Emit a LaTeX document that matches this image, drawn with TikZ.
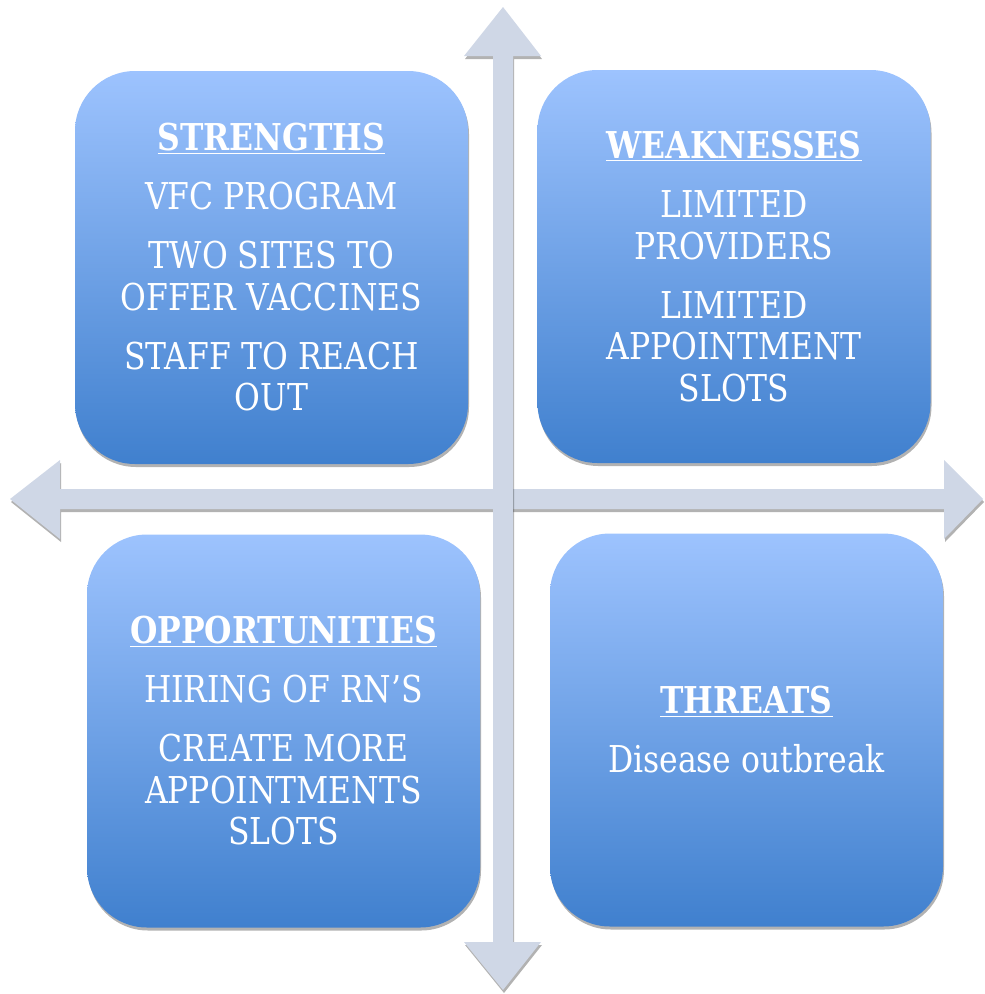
\documentclass[tikz,border=0pt]{standalone}
\usepackage{fontspec}
\setmainfont{DejaVu Serif}[FakeStretch=0.85]
\usepackage{tikz}
\usetikzlibrary{shadows}

\definecolor{axisgray}{RGB}{207,215,230}
\definecolor{boxtop}{RGB}{157,195,254}
\definecolor{boxbottom}{RGB}{64,128,206}

\begin{document}
\begin{tikzpicture}[x=1pt,y=-1pt,
 quad/.style={rounded corners=60pt,minimum width=393pt,minimum height=393pt,
  top color=boxtop,bottom color=boxbottom,text=white,align=center,inner sep=0pt,
  font=\fontsize{37}{41.5}\selectfont,
  drop shadow={shadow xshift=1pt,shadow yshift=-3pt,opacity=0.3,fill=black}},
 axis/.style={fill=axisgray,
  drop shadow={shadow xshift=1pt,shadow yshift=-3pt,opacity=0.3,fill=black}}]

\useasboundingbox (0,0) rectangle (985,994);

\def\g{17.5pt}

% axes
\path[axis] (10,499) -- (60,460) -- (60,489) -- (944,489) -- (944,460) -- (983,499)
 -- (944,539) -- (944,509) -- (60,509) -- (60,539) -- cycle;
\path[axis] (503,7) -- (541,56) -- (513,56) -- (513,942) -- (541,942) -- (503,990)
 -- (464,942) -- (493,942) -- (493,56) -- (464,56) -- cycle;

% quadrants
\node[quad] (strengths) at (271.5,267.5) {\textbf{\underline{STRENGTHS}}\\[\g]
 VFC PROGRAM\\[\g] TWO SITES TO\\OFFER VACCINES\\[\g] STAFF TO REACH\\OUT};
\node[quad] (weaknesses) at (734,266.5) {\textbf{\underline{WEAKNESSES}}\\[\g]
 LIMITED\\PROVIDERS\\[\g] LIMITED\\APPOINTMENT\\SLOTS};
\node[quad] (opportunities) at (283.5,731) {\textbf{\underline{OPPORTUNITIES}}\\[\g]
 HIRING OF RN’S\\[\g] CREATE MORE\\APPOINTMENTS\\SLOTS};
\node[quad] (threats) at (746.5,730) {\textbf{\underline{THREATS}}\\[\g]
 Disease outbreak};

\end{tikzpicture}
\end{document}
